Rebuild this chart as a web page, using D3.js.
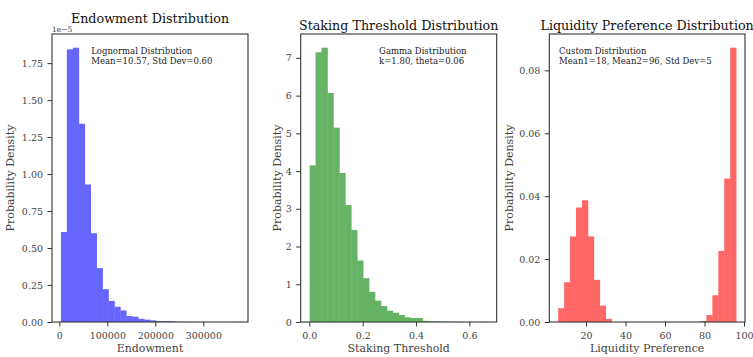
<!DOCTYPE html>
<html>
<head>
<meta charset="utf-8">
<script src="https://cdn.jsdelivr.net/npm/d3@7/dist/d3.min.js"></script>
<style>
  html, body { margin: 0; padding: 0; background: #fff; }
  svg { display: block; font-family: "DejaVu Serif", serif; }
</style>
</head>
<body>
<svg id="chart" width="753" height="357"></svg>
<script>
// ---------------- DATA ----------------
// Endowment (lognormal), 30 bins
const endowmentRange = [3300, 374600];
const endowmentDensity = [0.608e-5, 1.843e-5, 1.854e-5, 1.34e-5, 0.93e-5, 0.60e-5, 0.364e-5, 0.222e-5, 0.142e-5, 0.103e-5,
  0.078e-5, 0.040e-5, 0.036e-5, 0.022e-5, 0.016e-5, 0.011e-5, 0.006e-5, 0.006e-5, 0.005e-5, 0.002e-5,
  0.001e-5, 0.0005e-5, 0.0003e-5, 0, 0, 0, 0, 0, 0, 0.0003e-5];
const endowmentXTicks = [0, 100000, 200000, 300000];
const endowmentYTicks = [0, 0.25e-5, 0.5e-5, 0.75e-5, 1.0e-5, 1.25e-5, 1.5e-5, 1.75e-5];

// Staking threshold (gamma), 30 bins
const stakingRange = [0.001, 0.669];
const stakingDensity = [4.15, 7.15, 7.27, 6.07, 5.15, 3.95, 3.10, 2.44, 1.63, 1.16,
  0.80, 0.565, 0.424, 0.30, 0.247, 0.186, 0.124, 0.106, 0.106, 0.03,
  0.02, 0.015, 0.01, 0.01, 0.005, 0.005, 0, 0, 0, 0.005];
const stakingXTicks = [0.0, 0.2, 0.4, 0.6];
const stakingYTicks = [0, 1, 2, 3, 4, 5, 6, 7];

// Liquidity preference (bimodal), 30 bins
const liquidityRange = [5.92, 95.99];
const liquidityDensity = [0.0044, 0.01265, 0.0272, 0.0364, 0.0387, 0.0272, 0.0134, 0.0052, 0.001, 0,
  0, 0, 0, 0, 0, 0, 0, 0, 0, 0,
  0, 0, 0, 0, 0.0003, 0.0022, 0.0085, 0.0226, 0.0456, 0.0872];
const liquidityXTicks = [20, 40, 60, 80, 100];
const liquidityYTicks = [0, 0.02, 0.04, 0.06, 0.08];

const titles = ["Endowment Distribution", "Staking Threshold Distribution", "Liquidity Preference Distribution"];
const xLabels = ["Endowment", "Staking Threshold", "Liquidity Preference"];
const yLabel = "Probability Density";
const notes = [
  ["Lognormal Distribution", "Mean=10.57, Std Dev=0.60"],
  ["Gamma Distribution", "k=1.80, theta=0.06"],
  ["Custom Distribution", "Mean1=18, Mean2=96, Std Dev=5"]
];

// ---------------- LAYOUT ----------------
const svg = d3.select("#chart");
const plotTop = 34, plotBottom = 322;
const panels = [
  { left: 52, right: 248, range: endowmentRange, dens: endowmentDensity, xt: endowmentXTicks, yt: endowmentYTicks,
    color: "#6666ff", xfmt: d => d3.format("d")(d), yfmt: d => (d * 1e5).toFixed(2), titleY: 22.7, noteX: 0.2, offset: "1e\u22125", ylabOff: 38 },
  { left: 300.7, right: 496.7, range: stakingRange, dens: stakingDensity, xt: stakingXTicks, yt: stakingYTicks,
    color: "#66b366", xfmt: d => d.toFixed(1), yfmt: d => d3.format("d")(d), titleY: 29.5, noteX: 0.4, ylabOff: 20 },
  { left: 549.3, right: 745, range: liquidityRange, dens: liquidityDensity, xt: liquidityXTicks, yt: liquidityYTicks,
    color: "#ff6666", xfmt: d => d3.format("d")(d), yfmt: d => d.toFixed(2), titleY: 29.5, noteX: 0.05, ylabOff: 36.6 }
];

const axisColor = "#333";
const tickText = "#444";

panels.forEach((p, i) => {
  const n = p.dens.length;
  const span = p.range[1] - p.range[0];
  const bw = span / n;
  const bins = p.dens.map((d, k) => ({ x0: p.range[0] + k * bw, x1: p.range[0] + (k + 1) * bw, d }));
  const x = d3.scaleLinear().domain([p.range[0] - 0.05 * span, p.range[1] + 0.05 * span]).range([p.left, p.right]);
  const y = d3.scaleLinear().domain([0, d3.max(p.dens) * 1.05]).range([plotBottom, plotTop]);

  const g = svg.append("g");

  // bars
  g.append("g").selectAll("rect").data(bins.filter(b => b.d > 0)).join("rect")
    .attr("x", b => x(b.x0))
    .attr("width", b => x(b.x1) - x(b.x0) + 0.4)
    .attr("y", b => y(b.d))
    .attr("height", b => Math.max(0, plotBottom - y(b.d)))
    .attr("fill", p.color);

  // frame
  g.append("rect").attr("x", p.left).attr("y", plotTop).attr("width", p.right - p.left).attr("height", plotBottom - plotTop)
    .attr("fill", "none").attr("stroke", axisColor).attr("stroke-width", 1.1);

  // x axis
  const xa = g.append("g").attr("transform", `translate(0,${plotBottom})`)
    .call(d3.axisBottom(x).tickValues(p.xt).tickFormat(p.xfmt).tickSize(4.5).tickPadding(6));
  xa.select(".domain").remove();
  xa.selectAll("line").attr("stroke", axisColor).attr("stroke-width", 1);
  xa.selectAll("text").attr("fill", tickText).attr("font-size", "9.5px").attr("font-family", "DejaVu Serif");

  // y axis
  const ya = g.append("g").attr("transform", `translate(${p.left},0)`)
    .call(d3.axisLeft(y).tickValues(p.yt).tickFormat(p.yfmt).tickSize(4.5).tickPadding(4.5));
  ya.select(".domain").remove();
  ya.selectAll("line").attr("stroke", axisColor).attr("stroke-width", 1);
  ya.selectAll("text").attr("fill", tickText).attr("font-size", "9.5px").attr("font-family", "DejaVu Serif");

  // offset text
  if (p.offset) {
    g.append("text").attr("x", p.left).attr("y", plotTop - 2.5).attr("font-size", "7.5px").attr("fill", tickText).text(p.offset);
  }

  // title
  g.append("text").attr("x", (p.left + p.right) / 2).attr("y", p.titleY).attr("text-anchor", "middle")
    .attr("font-size", "12.7px").attr("fill", "#111").text(titles[i]);

  // x label
  g.append("text").attr("x", (p.left + p.right) / 2).attr("y", 352).attr("text-anchor", "middle")
    .attr("font-size", "11px").attr("fill", tickText).text(xLabels[i]);

  // y label
  const yLabX = p.left - p.ylabOff;
  g.append("text").attr("transform", `translate(${yLabX},${(plotTop + plotBottom) / 2}) rotate(-90)`)
    .attr("text-anchor", "middle").attr("font-size", "11px").attr("fill", tickText).text(yLabel);

  // annotation
  const nx = p.left + p.noteX * (p.right - p.left);
  notes[i].forEach((line, j) => {
    g.append("text").attr("x", nx).attr("y", 54 + j * 9.6).attr("font-size", "8.5px").attr("fill", "#222").text(line);
  });
});
</script>
</body>
</html>
